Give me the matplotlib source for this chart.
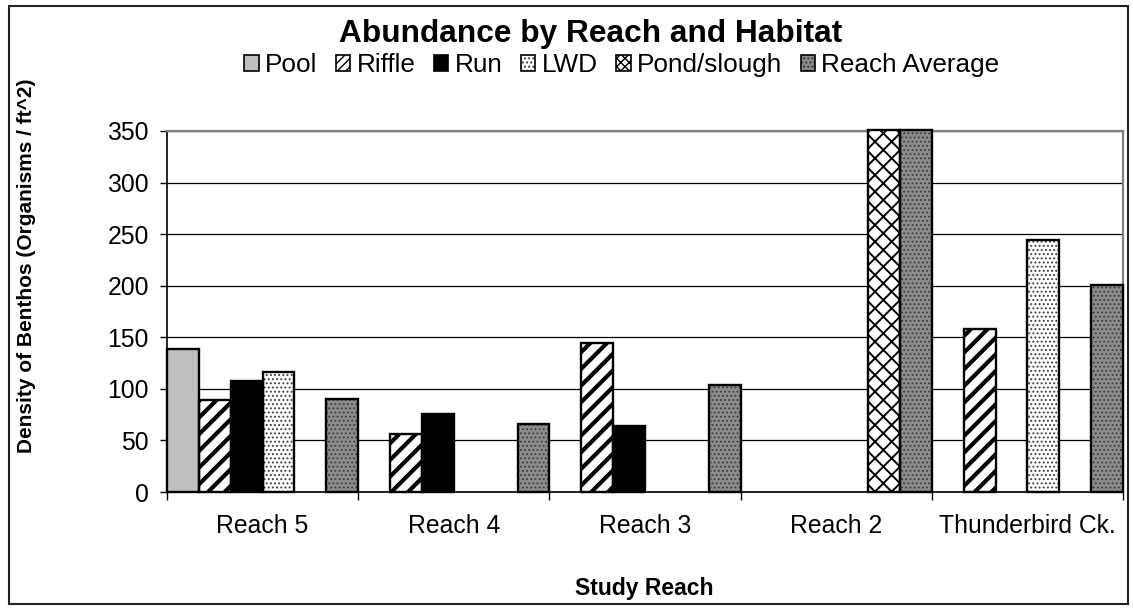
import numpy as np
import matplotlib
matplotlib.use("Agg")
import matplotlib.pyplot as plt
from matplotlib.patches import Patch, Rectangle


categories = ["Reach 5", "Reach 4", "Reach 3", "Reach 2", "Thunderbird Ck."]
series_names = ["Pool", "Riffle", "Run", "LWD", "Pond/slough", "Reach Average"]

pool = [139, None, None, None, None]
riffle = [89, 56, 144, None, 158]
run = [108, 76, 64, None, None]
lwd = [116, None, None, None, 244]
pond_slough = [None, None, None, 351, None]
reach_average = [90, 66, 104, 351, 201]

y_ticks = [0, 50, 100, 150, 200, 250, 300, 350]

# fill colour, hatch in bars, hatch in legend key, hatch colour, hatch width
STYLES = [
    ("#c0c0c0", None, None, None, 1.0),
    ("white", "//", "////", "black", 3.0),
    ("black", None, None, None, 1.0),
    ("white", "....", "....", "#404040", 0.9),
    ("white", "xx", "xxxx", "black", 1.4),
    ("#8c8c8c", "....", "....", "#3a3a3a", 0.8),
]

plt.rcParams["font.family"] = ["Liberation Sans", "DejaVu Sans"]

W, H = 1133, 608
fig = plt.figure(figsize=(W / 100, H / 100), dpi=100)
ax = fig.add_axes([167 / W, 1 - 492 / H, (1123 - 167) / W, (492 - 131) / H])

all_series = [pool, riffle, run, lwd, pond_slough, reach_average]
n_series = len(all_series)
bar_w = 1.0 / n_series
legend_handles = []

for j, (values, style) in enumerate(zip(all_series, STYLES)):
    face, hatch, key_hatch, hcolor, hlw = style
    hcolor = hcolor or face
    xs = [i + j * bar_w for i, v in enumerate(values) if v is not None]
    hs = [v for v in values if v is not None]

    # filled / hatched body, then a black outline drawn over it
    with plt.rc_context({"hatch.linewidth": hlw}):
        ax.bar(xs, hs, width=bar_w, align="edge", color=face, hatch=hatch,
               edgecolor=hcolor, linewidth=0, zorder=3, clip_on=False)
        ax.bar(xs, hs, width=bar_w, align="edge", facecolor="none",
               edgecolor="black", linewidth=1.7, zorder=4, clip_on=False)
    with plt.rc_context({"hatch.linewidth": min(hlw, 1.6)}):
        fill_h = Patch(facecolor=face, hatch=key_hatch, edgecolor=hcolor,
                       linewidth=0)
        edge_h = Patch(facecolor="none", edgecolor="black", linewidth=1.2)
    legend_handles.append((fill_h, edge_h))

ax.set_xlim(0, len(categories))
ax.set_ylim(0, 350)
ax.set_yticks(y_ticks)
ax.yaxis.grid(True, color="black", linewidth=0.9)
ax.set_axisbelow(True)

# category boundaries get the tick marks, names sit in between
ax.set_xticks(np.arange(len(categories) + 1))
ax.set_xticklabels([])
ax.set_xticks(np.arange(len(categories)) + 0.5, minor=True)
ax.set_xticklabels(categories, minor=True)
ax.tick_params(axis="x", which="major", direction="out", length=6,
               width=1.0, color="black")
ax.tick_params(axis="x", which="minor", length=0, pad=16, labelsize=17.8)
ax.tick_params(axis="y", direction="out", length=5, width=1.0,
               pad=8, labelsize=17.8)

for side in ("left", "bottom"):
    ax.spines[side].set_color("black")
    ax.spines[side].set_linewidth(1.2)
for side in ("top", "right"):
    ax.spines[side].set_color("#808080")
    ax.spines[side].set_linewidth(1.6)

fig.text(591 / W, 1 - 42 / H, "Abundance by Reach and Habitat",
         ha="center", va="baseline", fontsize=22.8, fontweight="bold")

fig.legend(legend_handles, series_names, loc="center",
           bbox_to_anchor=(622 / W, 1 - 65 / H), ncol=6, frameon=False,
           fontsize=18.8, handlelength=0.55, handleheight=0.55,
           handletextpad=0.25, columnspacing=0.7, borderpad=0)

fig.text(644 / W, 1 - 588 / H, "Study Reach", ha="center", va="center",
         fontsize=16.5, fontweight="bold")
fig.text(27 / W, 1 - 266 / H, "Density of Benthos (Organisms / ft^2)",
         ha="center", va="center", rotation=90, fontsize=15,
         fontweight="bold")

# chart border
fig.patches.append(Rectangle((9 / W, 1 - 604 / H), (1128 - 9) / W,
                             (604 - 6) / H, transform=fig.transFigure,
                             fill=False, edgecolor="#222222", linewidth=1.5))

fig.savefig("out.png", dpi=100)
